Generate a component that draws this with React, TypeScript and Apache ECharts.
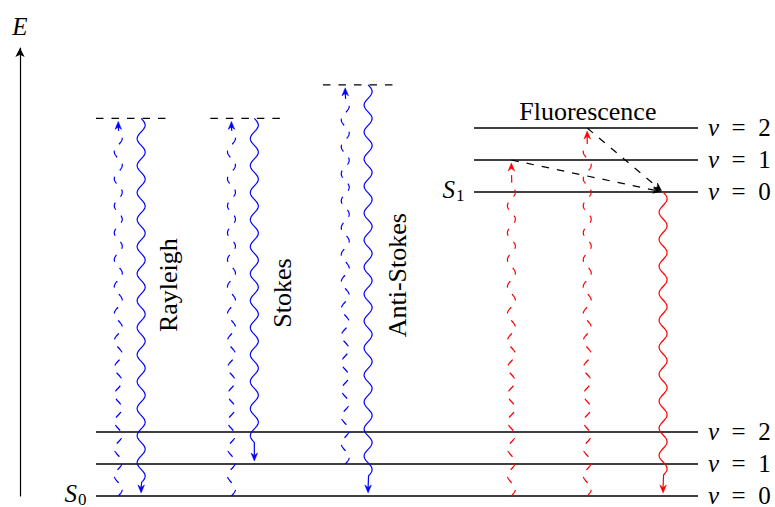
import React, { useEffect, useRef } from "react";
import * as echarts from "echarts";

const SERIF = '"Liberation Serif", "Times New Roman", serif';
const BLUE = "#0000ff";
const RED = "#ff0000";
const BLACK = "#000000";

// Vibrational levels of the two electronic states (energy units)
const S0_LEVELS = [0, 1, 2];
const S1_LEVELS = [9.5, 10.5, 11.5];
const NU_LABELS = ["0", "1", "2"];
const S0_SPAN = [0, 100];
const S1_SPAN = [62.8, 100];
const STATE_NAMES = ["S", "S"];
const STATE_SUBS = ["0", "1"];

// Virtual levels reached in the scattering processes
const VIRTUAL_X0 = [0, 19, 37.7];
const VIRTUAL_X1 = [12, 31.1, 49.8];
const VIRTUAL_E = [11.8, 11.8, 12.85];

// Radiative transitions: excitation (dashed) and emission (solid)
const TRANSITION_X = [3.7, 7.5, 22.5, 26.3, 41.4, 45.2, 69, 81.6, 94.2];
const TRANSITION_FROM = [0, 11.8, 0, 11.8, 1, 12.85, 0, 0, 9.5];
const TRANSITION_TO = [11.8, 0, 11.8, 1, 12.85, 0, 10.5, 11.5, 0];
const TRANSITION_DASHED = [true, false, true, false, true, false, true, true, false];
const TRANSITION_COLOR = [BLUE, BLUE, BLUE, BLUE, BLUE, BLUE, RED, RED, RED];

// Vibrational relaxation down to S1, ν = 0
const RELAX_FROM_X = [69, 81.6];
const RELAX_FROM_E = [10.5, 11.5];
const RELAX_TO_X = [94.2, 94.2];
const RELAX_TO_E = [9.5, 9.5];

// Process names
const PROCESS_LABELS = ["Rayleigh", "Stokes", "Anti-Stokes", "Fluorescence"];
const PROCESS_X = [12.1, 30.9, 50.0, 81.7];
const PROCESS_E = [6.59, 6.34, 6.9, 12.03];
const PROCESS_VERTICAL = [true, true, true, false];

const WAVE_AMP = 4;
const WAVE_PERIOD = 27;
const HEAD_LEN = 8;
const HEAD_HALF = 3.3;
const DASH = [7.5, 8];
const LINE_W = 1.2;
const LEVEL_W = 1.3;
const FONT_SIZE = 26;
const LEVEL_FONT = 25;

type Pt = [number, number];

function arrowHead(tip: Pt, dir: Pt, color: string) {
  const [tx, ty] = tip;
  const [dx, dy] = dir;
  const nx = -dy;
  const ny = dx;
  const bx = tx - dx * HEAD_LEN;
  const by = ty - dy * HEAD_LEN;
  const mx = tx - dx * HEAD_LEN * 0.7;
  const my = ty - dy * HEAD_LEN * 0.7;
  return {
    type: "polygon",
    shape: {
      points: [
        [tx, ty],
        [bx + nx * HEAD_HALF, by + ny * HEAD_HALF],
        [mx, my],
        [bx - nx * HEAD_HALF, by - ny * HEAD_HALF],
      ],
    },
    style: { fill: color, stroke: color, lineWidth: 0.5 },
  };
}

function wavyArrow(x: number, y0: number, y1: number, color: string, dashed: boolean) {
  const dir = y1 > y0 ? 1 : -1;
  const tipY = y1 - dir * 3;
  const total = Math.abs(tipY - y0);
  const half = WAVE_PERIOD / 2;
  const waveLen = Math.floor((total - HEAD_LEN - 2) / half) * half;
  const pts: Pt[] = [];
  for (let s = 0; s <= waveLen; s += 1) {
    pts.push([x + WAVE_AMP * Math.sin((2 * Math.PI * s) / WAVE_PERIOD), y0 + dir * s]);
  }
  pts.push([x, tipY - dir * HEAD_LEN * 0.7]);
  return [
    {
      type: "polyline",
      shape: { points: pts },
      style: {
        stroke: color,
        lineWidth: LINE_W,
        fill: "none",
        lineDash: dashed ? DASH : null,
      },
    },
    arrowHead([x, tipY], [0, dir], color),
  ];
}

export default function App() {
  const ref = useRef<HTMLDivElement>(null);

  useEffect(() => {
    document.body.style.margin = "0";
    if (!ref.current) return;
    const chart = echarts.init(ref.current, null, { renderer: "svg" });

    const levelRows = [
      ...S0_LEVELS.map((e, i) => ({ e, x0: S0_SPAN[0], x1: S0_SPAN[1], nu: NU_LABELS[i], state: i === 0 ? 0 : -1 })),
      ...S1_LEVELS.map((e, i) => ({ e, x0: S1_SPAN[0], x1: S1_SPAN[1], nu: NU_LABELS[i], state: i === 0 ? 1 : -1 })),
    ];

    const option: any = {
      animation: false,
      backgroundColor: "#ffffff",
      grid: { left: 96, right: 77, top: 48, bottom: 11 },
      xAxis: { type: "value", min: 0, max: 100, show: false },
      yAxis: {
        type: "value",
        min: 0,
        max: 14,
        offset: 76,
        name: "E",
        nameLocation: "end",
        nameGap: 12,
        nameTextStyle: { fontFamily: SERIF, fontStyle: "italic", fontSize: 25, color: BLACK, lineHeight: 20 },
        axisLine: {
          show: true,
          onZero: false,
          lineStyle: { color: BLACK, width: LINE_W },
          symbol: ["none", "arrow"],
          symbolSize: [7, 9],
        },
        axisTick: { show: false },
        axisLabel: { show: false },
        splitLine: { show: false },
      },
      series: [
        {
          type: "custom",
          name: "levels",
          silent: true,
          data: levelRows.map((r) => [r.x0, r.e]),
          renderItem: (params: any, api: any) => {
            const r = levelRows[params.dataIndex];
            const p0 = api.coord([r.x0, r.e]);
            const p1 = api.coord([r.x1, r.e]);
            const children: any[] = [
              {
                type: "line",
                shape: { x1: p0[0], y1: p0[1], x2: p1[0], y2: p1[1] },
                style: { stroke: BLACK, lineWidth: LEVEL_W },
              },
              {
                type: "text",
                x: p1[0] + 10,
                y: p1[1] - 1,
                style: {
                  text: `{v|ν}\u2002=\u2002${r.nu}`,
                  fontFamily: SERIF,
                  fontSize: LEVEL_FONT,
                  lineHeight: 18,
                  fill: BLACK,
                  align: "left",
                  verticalAlign: "middle",
                  rich: {
                    v: { fontFamily: SERIF, fontStyle: "italic", fontSize: LEVEL_FONT, lineHeight: 18, fill: BLACK },
                  },
                },
              },
            ];
            if (r.state >= 0) {
              const sx = p0[0] - 19;
              children.push(
                {
                  type: "text",
                  x: sx,
                  y: p0[1] - 3,
                  style: {
                    text: STATE_NAMES[r.state],
                    fontFamily: SERIF,
                    fontStyle: "italic",
                    fontSize: LEVEL_FONT,
                    lineHeight: 18,
                    fill: BLACK,
                    align: "right",
                    verticalAlign: "middle",
                  },
                },
                {
                  type: "text",
                  x: sx + 1,
                  y: p0[1] + 3,
                  style: {
                    text: STATE_SUBS[r.state],
                    fontFamily: SERIF,
                    fontSize: 17,
                    lineHeight: 12,
                    fill: BLACK,
                    align: "left",
                    verticalAlign: "middle",
                  },
                }
              );
            }
            return { type: "group", children };
          },
        },
        {
          type: "custom",
          name: "virtual",
          silent: true,
          data: VIRTUAL_E.map((e, i) => [VIRTUAL_X0[i], e]),
          renderItem: (params: any, api: any) => {
            const i = params.dataIndex;
            const p0 = api.coord([VIRTUAL_X0[i], VIRTUAL_E[i]]);
            const p1 = api.coord([VIRTUAL_X1[i], VIRTUAL_E[i]]);
            return {
              type: "line",
              shape: { x1: p0[0], y1: p0[1], x2: p1[0], y2: p1[1] },
              style: { stroke: BLACK, lineWidth: LINE_W, lineDash: DASH },
            };
          },
        },
        {
          type: "custom",
          name: "transitions",
          silent: true,
          data: TRANSITION_X.map((x, i) => [x, TRANSITION_FROM[i]]),
          renderItem: (params: any, api: any) => {
            const i = params.dataIndex;
            const a = api.coord([TRANSITION_X[i], TRANSITION_FROM[i]]);
            const b = api.coord([TRANSITION_X[i], TRANSITION_TO[i]]);
            return {
              type: "group",
              children: wavyArrow(a[0], a[1], b[1], TRANSITION_COLOR[i], TRANSITION_DASHED[i]),
            };
          },
        },
        {
          type: "custom",
          name: "relaxation",
          silent: true,
          data: RELAX_FROM_X.map((x, i) => [x, RELAX_FROM_E[i]]),
          renderItem: (params: any, api: any) => {
            const i = params.dataIndex;
            const a = api.coord([RELAX_FROM_X[i], RELAX_FROM_E[i]]);
            const b = api.coord([RELAX_TO_X[i], RELAX_TO_E[i]]);
            const len = Math.hypot(b[0] - a[0], b[1] - a[1]);
            const d: Pt = [(b[0] - a[0]) / len, (b[1] - a[1]) / len];
            const tip: Pt = [b[0] - d[0] * 2, b[1] - d[1] * 2];
            const end: Pt = [tip[0] - d[0] * HEAD_LEN * 0.7, tip[1] - d[1] * HEAD_LEN * 0.7];
            return {
              type: "group",
              children: [
                {
                  type: "line",
                  shape: { x1: a[0], y1: a[1], x2: end[0], y2: end[1] },
                  style: { stroke: BLACK, lineWidth: LINE_W, lineDash: DASH },
                },
                arrowHead(tip, d, BLACK),
              ],
            };
          },
        },
        {
          type: "custom",
          name: "processes",
          silent: true,
          data: PROCESS_X.map((x, i) => [x, PROCESS_E[i]]),
          renderItem: (params: any, api: any) => {
            const i = params.dataIndex;
            const p = api.coord([PROCESS_X[i], PROCESS_E[i]]);
            return {
              type: "text",
              x: p[0],
              y: p[1],
              rotation: PROCESS_VERTICAL[i] ? Math.PI / 2 : 0,
              style: {
                text: PROCESS_LABELS[i],
                fontFamily: SERIF,
                fontSize: FONT_SIZE,
                fill: BLACK,
                align: "center",
                verticalAlign: "middle",
              },
            };
          },
        },
      ],
    };

    chart.setOption(option);
    return () => chart.dispose();
  }, []);

  return <div ref={ref} style={{ width: 775, height: 507 }} />;
}
